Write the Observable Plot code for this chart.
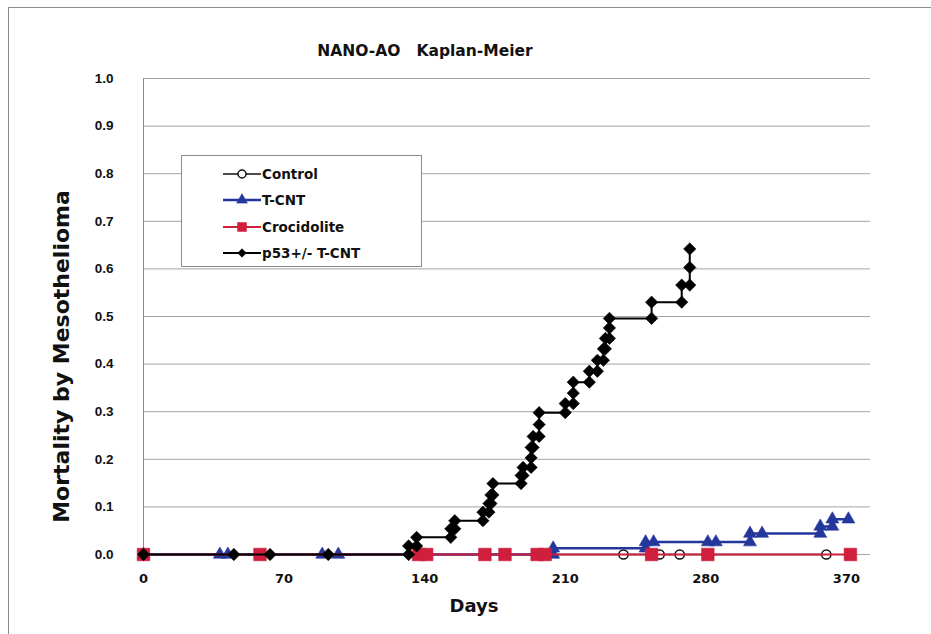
<!DOCTYPE html>
<html>
<head>
<meta charset="utf-8">
<script src="https://cdn.jsdelivr.net/npm/d3@7"></script>
<script src="https://cdn.jsdelivr.net/npm/@observablehq/plot@0.6"></script>
<style>
  body { margin: 0; background: #fff; }
  #wrap { position: relative; width: 931px; height: 634px; overflow: hidden; }
  #frame { position: absolute; left: 8px; top: 7px; width: 940px; height: 640px; border: 1px solid #8c8c8c; box-sizing: border-box; pointer-events: none; }
  #legend { position: absolute; left: 181px; top: 155px; width: 241px; height: 112px; border: 1px solid #8c8c8c; background: #fff; box-sizing: border-box; }
  .item { position: absolute; left: 0; height: 16px; width: 240px; }
  .item svg { position: absolute; left: 41px; top: 0; }
  .item span { position: absolute; left: 80px; top: -1px; font: bold 13.5px "DejaVu Sans", sans-serif; color: #111; white-space: pre; line-height: 18px; }
  svg text { white-space: pre; }
</style>
</head>
<body>
<div id="wrap"><div id="chart"></div><div id="frame"></div><div id="legend"></div></div>
<script>
// ---- data ----
const seriesNames = ["Control", "T-CNT", "Crocidolite", "p53+/- T-CNT"];

const controlDays   = [0, 239, 257, 267, 340];
const controlValues = [0, 0, 0, 0, 0];

const tcntDays   = [0, 38, 42, 89, 97, 204, 204, 250, 250, 254, 281, 285, 302, 302, 308, 337, 337, 343, 343, 351];
const tcntValues = [0, 0, 0, 0, 0, 0, 0.013, 0.013, 0.026, 0.026, 0.026, 0.026, 0.026, 0.044, 0.044, 0.044, 0.059, 0.059, 0.074, 0.074];

const crocDays   = [0, 58, 137, 141, 170, 180, 196, 200, 253, 281, 352];
const crocValues = [0, 0, 0, 0, 0, 0, 0, 0, 0, 0, 0];

const p53Days = [0, 45, 63, 92, 132, 132, 136, 136, 153, 153, 155, 155, 169, 169, 172, 172, 173, 173, 174, 174,
  188, 188, 189, 189, 193, 193, 193, 194, 194, 197, 197, 197, 210, 210, 214, 214, 214, 222, 222, 226, 226,
  229, 229, 230, 230, 232, 232, 232, 253, 253, 268, 268, 272, 272, 272];
const p53Values = [0, 0, 0, 0, 0, 0.018, 0.018, 0.036, 0.036, 0.054, 0.054, 0.071, 0.071, 0.089, 0.089, 0.107, 0.107, 0.125, 0.125, 0.149,
  0.149, 0.166, 0.166, 0.183, 0.183, 0.203, 0.225, 0.225, 0.248, 0.248, 0.273, 0.298, 0.298, 0.317, 0.317, 0.339, 0.362, 0.362, 0.385, 0.385, 0.408,
  0.408, 0.432, 0.432, 0.454, 0.454, 0.476, 0.496, 0.496, 0.530, 0.530, 0.566, 0.566, 0.603, 0.642];

const xTickValues = [0, 70, 140, 210, 280, 350];
const xTickLabels = ["0", "70", "140", "210", "280", "370"];
const yTickValues = [0, 0.1, 0.2, 0.3, 0.4, 0.5, 0.6, 0.7, 0.8, 0.9, 1.0];

const titleText = "NANO-AO   Kaplan-Meier";
const xTitle = "Days";
const yTitle = "Mortality by Mesothelioma";

// ---- styles ----
const styles = {
  "Control":      {stroke: "#111", width: 1.5, symbol: "circle", r: 4.6, fill: "#fff", mstroke: "#111", rotate: 0},
  "T-CNT":        {stroke: "#24379c", width: 2.5, symbol: "triangle", r: 4.8, fill: "#24379c", mstroke: "#24379c", rotate: 0},
  "Crocidolite":  {stroke: "#cf1f3c", width: 2, symbol: "square", r: 7.1, fill: "#cf1f3c", mstroke: "#cf1f3c", rotate: 0},
  "p53+/- T-CNT": {stroke: "#000", width: 2, symbol: "square", r: 4.9, fill: "#000", mstroke: "#000", rotate: 45}
};

const rows = (name, days, values) => days.map((d, i) => ({series: name, day: d, value: values[i]}));
const data = [
  rows(seriesNames[0], controlDays, controlValues),
  rows(seriesNames[1], tcntDays, tcntValues),
  rows(seriesNames[2], crocDays, crocValues),
  rows(seriesNames[3], p53Days, p53Values)
];

const xLabelMap = new Map(xTickValues.map((v, i) => [v, xTickLabels[i]]));

const seriesMarks = data.flatMap((rs, k) => {
  const s = styles[seriesNames[k]];
  return [
    Plot.line(rs, {x: "day", y: "value", stroke: s.stroke, strokeWidth: s.width}),
    Plot.dot(rs, {x: "day", y: "value", symbol: s.symbol, r: s.r, fill: s.fill, stroke: s.mstroke,
                  strokeWidth: s.symbol === "circle" ? 1.5 : 0.6, rotate: s.rotate})
  ];
});

const chart = Plot.plot({
  width: 931,
  height: 634,
  marginLeft: 143,
  marginRight: 61,
  marginTop: 78,
  marginBottom: 80,
  style: {background: "transparent", fontFamily: "DejaVu Sans, sans-serif", color: "#111"},
  x: {domain: [0, 362]},
  y: {domain: [0, 1]},
  marks: [
    Plot.gridY(yTickValues, {stroke: "#a3a3a3", strokeOpacity: 1, strokeWidth: 1}),
    Plot.ruleX([0], {stroke: "#8c8c8c", strokeWidth: 1}),
    Plot.axisY(yTickValues, {tickSize: 0, tickPadding: 30, tickFormat: d3.format(".1f"), label: null,
      fontSize: 13.5, fontWeight: "bold", fontFamily: "Liberation Sans, Arial, sans-serif"}),
    Plot.axisX(xTickValues, {tickSize: 0, tickPadding: 19, tickFormat: d => xLabelMap.get(d), label: null,
      fontSize: 13, fontWeight: "bold", fontFamily: "DejaVu Sans, sans-serif"}),
    ...seriesMarks,
    Plot.text([titleText], {frameAnchor: "top", dx: -82, dy: -27, lineAnchor: "middle", textAnchor: "middle",
      fontSize: 15.5, fontWeight: "bold", fill: "#111"}),
    Plot.text([xTitle], {frameAnchor: "bottom", dx: -33, dy: 52, lineAnchor: "middle", textAnchor: "middle",
      fontSize: 18, fontWeight: "bold", fill: "#111"}),
    Plot.text([yTitle], {frameAnchor: "left", dx: -82, dy: 40, rotate: -90, lineAnchor: "middle", textAnchor: "middle",
      fontSize: 22, fontWeight: "bold", fill: "#111"})
  ]
});
document.getElementById("chart").appendChild(chart);

// ---- legend ----
const legend = d3.select("#legend");
const legendTops = [10, 36, 63, 89];
const symbolMap = {circle: d3.symbolCircle, triangle: d3.symbolTriangle, square: d3.symbolSquare};
seriesNames.forEach((name, i) => {
  const s = styles[name];
  const item = legend.append("div").attr("class", "item").style("top", legendTops[i] + "px");
  const svg = item.append("svg").attr("width", 40).attr("height", 16);
  svg.append("line").attr("x1", 0).attr("x2", 38).attr("y1", 8).attr("y2", 8)
    .attr("stroke", s.stroke).attr("stroke-width", s.width);
  const rr = i === 2 ? 5 : i === 3 ? 3.4 : 4;
  svg.append("path")
    .attr("d", d3.symbol(symbolMap[s.symbol], Math.PI * rr * rr)())
    .attr("transform", `translate(19,8) rotate(${s.rotate})`)
    .attr("fill", s.fill).attr("stroke", s.mstroke).attr("stroke-width", s.symbol === "circle" ? 1.5 : 0.6);
  item.append("span").text(name);
});
</script>
</body>
</html>
